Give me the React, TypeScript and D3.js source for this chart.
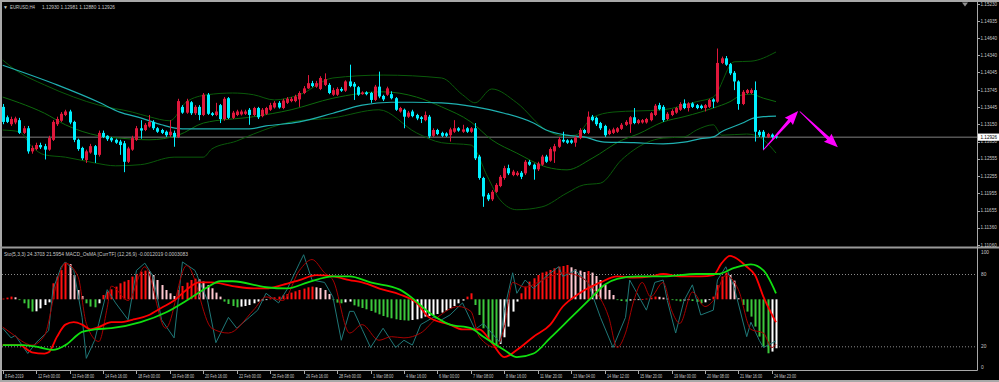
import React from "react";
import * as d3 from "d3";

// ---------------- DATA ----------------
// H4 candles [open, high, low, close], bar 0 = 8 Feb 16:00
const ohlc: number[][] = [
  [1.1345,1.1350,1.1315,1.1319],[1.1327,1.1330,1.1317,1.1319],[1.1315,1.1328,1.1312,1.1324],[1.1318,1.1328,1.1315,1.1325],
  [1.1322,1.1326,1.1298,1.1300],[1.1300,1.1312,1.1298,1.1308],[1.1308,1.1312,1.1264,1.1268],[1.1268,1.1278,1.1264,1.1274],
  [1.1272,1.1283,1.1270,1.1279],[1.1279,1.1283,1.1272,1.1275],[1.1277,1.1281,1.1254,1.1271],[1.1271,1.1295,1.1269,1.1291],
  [1.1288,1.1322,1.1286,1.1319],[1.1315,1.1328,1.1312,1.1324],[1.1321,1.1336,1.1319,1.1333],[1.1331,1.1340,1.1329,1.1337],
  [1.1337,1.1340,1.1315,1.1318],[1.1319,1.1321,1.1284,1.1288],[1.1288,1.1290,1.1269,1.1272],[1.1274,1.1276,1.1253,1.1256],
  [1.1253,1.1271,1.1248,1.1268],[1.1266,1.1281,1.1264,1.1277],[1.1277,1.1279,1.1248,1.1262],[1.1262,1.1304,1.1259,1.1300],
  [1.1300,1.1304,1.1291,1.1293],[1.1295,1.1296,1.1286,1.1289],[1.1291,1.1293,1.1284,1.1287],[1.1288,1.1290,1.1281,1.1283],
  [1.1285,1.1288,1.1262,1.1279],[1.1282,1.1286,1.1232,1.1250],[1.1250,1.1276,1.1248,1.1273],[1.1271,1.1295,1.1269,1.1291],
  [1.1288,1.1312,1.1286,1.1308],[1.1308,1.1322,1.1290,1.1304],[1.1305,1.1317,1.1303,1.1314],[1.1311,1.1331,1.1309,1.1319],
  [1.1319,1.1322,1.1305,1.1308],[1.1308,1.1310,1.1300,1.1302],[1.1305,1.1307,1.1298,1.1300],[1.1302,1.1304,1.1293,1.1296],
  [1.1296,1.1322,1.1293,1.1302],[1.1300,1.1304,1.1276,1.1293],[1.1293,1.1359,1.1291,1.1355],[1.1345,1.1348,1.1333,1.1335],
  [1.1335,1.1359,1.1333,1.1355],[1.1353,1.1355,1.1331,1.1334],[1.1334,1.1348,1.1331,1.1345],[1.1345,1.1348,1.1322,1.1331],
  [1.1331,1.1369,1.1329,1.1366],[1.1366,1.1369,1.1331,1.1333],[1.1334,1.1336,1.1329,1.1331],[1.1331,1.1352,1.1329,1.1337],
  [1.1348,1.1350,1.1317,1.1324],[1.1324,1.1362,1.1321,1.1359],[1.1360,1.1362,1.1324,1.1326],[1.1326,1.1338,1.1324,1.1335],
  [1.1331,1.1340,1.1329,1.1337],[1.1332,1.1340,1.1330,1.1337],[1.1333,1.1340,1.1331,1.1337],[1.1340,1.1343,1.1314,1.1331],
  [1.1331,1.1345,1.1329,1.1343],[1.1343,1.1345,1.1324,1.1327],[1.1329,1.1343,1.1327,1.1340],[1.1333,1.1345,1.1331,1.1343],
  [1.1340,1.1352,1.1338,1.1348],[1.1344,1.1355,1.1342,1.1352],[1.1352,1.1355,1.1342,1.1344],[1.1343,1.1359,1.1341,1.1356],
  [1.1352,1.1362,1.1350,1.1359],[1.1355,1.1362,1.1353,1.1359],[1.1355,1.1366,1.1353,1.1363],[1.1358,1.1372,1.1345,1.1369],
  [1.1369,1.1381,1.1367,1.1377],[1.1377,1.1400,1.1376,1.1386],[1.1386,1.1390,1.1379,1.1381],[1.1380,1.1390,1.1378,1.1386],
  [1.1376,1.1398,1.1374,1.1395],[1.1383,1.1403,1.1381,1.1393],[1.1383,1.1386,1.1367,1.1369],[1.1366,1.1378,1.1364,1.1374],
  [1.1366,1.1379,1.1364,1.1376],[1.1376,1.1379,1.1371,1.1373],[1.1373,1.1391,1.1371,1.1389],[1.1389,1.1418,1.1379,1.1381],
  [1.1385,1.1388,1.1357,1.1380],[1.1379,1.1381,1.1364,1.1366],[1.1367,1.1372,1.1366,1.1370],[1.1370,1.1372,1.1365,1.1367],
  [1.1369,1.1371,1.1352,1.1357],[1.1357,1.1383,1.1355,1.1380],[1.1380,1.1406,1.1360,1.1363],[1.1364,1.1366,1.1355,1.1358],
  [1.1366,1.1380,1.1364,1.1377],[1.1367,1.1372,1.1358,1.1360],[1.1360,1.1362,1.1338,1.1340],[1.1337,1.1345,1.1335,1.1343],
  [1.1340,1.1342,1.1308,1.1328],[1.1328,1.1338,1.1326,1.1335],[1.1337,1.1340,1.1327,1.1329],[1.1331,1.1333,1.1322,1.1325],
  [1.1327,1.1329,1.1317,1.1324],[1.1322,1.1337,1.1320,1.1331],[1.1328,1.1331,1.1291,1.1294],[1.1295,1.1308,1.1293,1.1305],
  [1.1305,1.1307,1.1296,1.1298],[1.1300,1.1302,1.1293,1.1295],[1.1299,1.1301,1.1293,1.1295],[1.1296,1.1309,1.1285,1.1306],
  [1.1302,1.1322,1.1300,1.1308],[1.1308,1.1310,1.1302,1.1304],[1.1302,1.1314,1.1300,1.1306],[1.1308,1.1310,1.1300,1.1302],
  [1.1302,1.1310,1.1300,1.1308],[1.1308,1.1317,1.1253,1.1256],[1.1259,1.1262,1.1219,1.1222],[1.1222,1.1224,1.1172,1.1190],
  [1.1193,1.1196,1.1182,1.1185],[1.1185,1.1201,1.1182,1.1198],[1.1198,1.1213,1.1196,1.1210],[1.1208,1.1227,1.1206,1.1224],
  [1.1222,1.1243,1.1219,1.1239],[1.1239,1.1245,1.1227,1.1230],[1.1227,1.1236,1.1225,1.1233],[1.1227,1.1234,1.1225,1.1231],
  [1.1231,1.1234,1.1220,1.1224],[1.1230,1.1253,1.1227,1.1250],[1.1250,1.1253,1.1243,1.1245],[1.1245,1.1247,1.1219,1.1237],
  [1.1237,1.1250,1.1234,1.1247],[1.1245,1.1262,1.1243,1.1259],[1.1259,1.1262,1.1248,1.1250],[1.1252,1.1275,1.1250,1.1272],
  [1.1268,1.1281,1.1248,1.1277],[1.1276,1.1293,1.1274,1.1289],[1.1288,1.1302,1.1283,1.1285],[1.1287,1.1289,1.1281,1.1283],
  [1.1287,1.1289,1.1281,1.1283],[1.1283,1.1295,1.1276,1.1292],[1.1291,1.1308,1.1289,1.1305],[1.1305,1.1307,1.1298,1.1300],
  [1.1300,1.1337,1.1298,1.1328],[1.1328,1.1331,1.1320,1.1322],[1.1326,1.1328,1.1312,1.1315],[1.1317,1.1319,1.1305,1.1308],
  [1.1312,1.1314,1.1293,1.1296],[1.1298,1.1307,1.1296,1.1304],[1.1300,1.1309,1.1298,1.1306],[1.1302,1.1310,1.1300,1.1308],
  [1.1307,1.1317,1.1305,1.1314],[1.1314,1.1322,1.1312,1.1319],[1.1315,1.1329,1.1300,1.1327],[1.1327,1.1343,1.1315,1.1317],
  [1.1317,1.1324,1.1315,1.1322],[1.1318,1.1324,1.1316,1.1322],[1.1318,1.1326,1.1316,1.1324],[1.1322,1.1336,1.1320,1.1334],
  [1.1331,1.1350,1.1329,1.1347],[1.1348,1.1352,1.1339,1.1341],[1.1345,1.1348,1.1319,1.1322],[1.1324,1.1336,1.1322,1.1333],
  [1.1331,1.1341,1.1329,1.1338],[1.1335,1.1345,1.1333,1.1343],[1.1340,1.1353,1.1338,1.1350],[1.1351,1.1358,1.1341,1.1343],
  [1.1343,1.1353,1.1337,1.1351],[1.1351,1.1353,1.1343,1.1345],[1.1348,1.1350,1.1341,1.1343],[1.1347,1.1349,1.1341,1.1343],
  [1.1343,1.1350,1.1337,1.1348],[1.1345,1.1359,1.1343,1.1357],[1.1358,1.1360,1.1343,1.1354],[1.1354,1.1446,1.1352,1.1421],
  [1.1421,1.1432,1.1419,1.1429],[1.1429,1.1433,1.1416,1.1418],[1.1419,1.1421,1.1400,1.1403],[1.1404,1.1407,1.1374,1.1389],
  [1.1389,1.1391,1.1340,1.1350],[1.1350,1.1374,1.1348,1.1371],[1.1369,1.1376,1.1367,1.1374],[1.1369,1.1377,1.1367,1.1374],
  [1.1374,1.1389,1.1285,1.1302],[1.1302,1.1305,1.1293,1.1296],[1.1302,1.1305,1.1271,1.1293],[1.1293,1.1300,1.1291,1.1298],
  [1.1297,1.1299,1.1290,1.1293],[1.1294,1.1296,1.1290,1.12926],
];

const lastPrice = 1.12926;
const priceTicks = [1.1523, 1.14935, 1.1464, 1.1434, 1.14045, 1.13745, 1.13445, 1.1315, 1.1285, 1.12555, 1.12255, 1.11955, 1.11655, 1.1136, 1.1106];
const timeLabels = ["8 Feb 2019","12 Feb 00:00","13 Feb 08:00","14 Feb 16:00","18 Feb 00:00","19 Feb 08:00","20 Feb 16:00","22 Feb 00:00","25 Feb 08:00","26 Feb 16:00","28 Feb 00:00","1 Mar 08:00","4 Mar 16:00","6 Mar 00:00","7 Mar 08:00","8 Mar 16:00","11 Mar 20:00","13 Mar 04:00","14 Mar 12:00","15 Mar 20:00","19 Mar 00:00","20 Mar 08:00","21 Mar 16:00","24 Mar 23:00"];
const barsPerTimeLabel = 8;
const stochLevels = [100, 80, 20, 0];

// main-pane indicator lines: [bar, price]
const maLine: number[][] = [[0,1.1417],[13,1.1383],[23,1.1353],[28,1.1336],[33,1.1326],[38,1.1314],[43,1.1307],[59,1.1307],[63,1.1312],[71,1.1319],[79,1.1334],[86,1.1348],[93,1.1353],[98,1.1353],[105,1.1352],[113,1.1345],[120,1.1334],[127,1.1317],[130,1.1305],[135,1.1296],[139,1.1293],[144,1.1284],[151,1.1283],[158,1.1281],[163,1.1284],[167,1.1290],[170,1.1293],[172,1.1302],[177,1.1317],[179,1.1324],[182,1.1328],[185,1.1329]];
const bbUpper: number[][] = [[0,1.1426],[3,1.1409],[10,1.1383],[17,1.1362],[23,1.1348],[31,1.1336],[35,1.1328],[40,1.1321],[44,1.1354],[49,1.1366],[55,1.1369],[60,1.1366],[65,1.1357],[71,1.1366],[79,1.1395],[91,1.1400],[105,1.1395],[110,1.1366],[113,1.1352],[117,1.1376],[123,1.1352],[130,1.1305],[134,1.1295],[137,1.1296],[141,1.1326],[146,1.1336],[158,1.1340],[166,1.1354],[170,1.1362],[175,1.1423],[179,1.1424],[185,1.1440]];
const bbMiddle: number[][] = [[0,1.1362],[4,1.1352],[10,1.1334],[15,1.1314],[23,1.1295],[28,1.1291],[35,1.1288],[42,1.1296],[48,1.1317],[60,1.1328],[69,1.1340],[79,1.1360],[91,1.1371],[99,1.1362],[105,1.1345],[112,1.1319],[117,1.1288],[123,1.1265],[130,1.1241],[135,1.1236],[141,1.1256],[148,1.1287],[152,1.1298],[158,1.1319],[163,1.1328],[167,1.1336],[170,1.1343],[174,1.1354],[177,1.1366],[179,1.1367],[182,1.1360],[185,1.1354]];
const bbLower: number[][] = [[0,1.1305],[4,1.1302],[7,1.1276],[10,1.1262],[15,1.1258],[22,1.1248],[27,1.1243],[33,1.1245],[41,1.1258],[48,1.1258],[50,1.1272],[56,1.1286],[60,1.1298],[69,1.1319],[79,1.1326],[90,1.1340],[99,1.1300],[105,1.1283],[112,1.1279],[116,1.1224],[119,1.1184],[123,1.1167],[129,1.1172],[135,1.1196],[139,1.1210],[143,1.1213],[148,1.1253],[154,1.1283],[158,1.1291],[163,1.1293],[166,1.1305],[170,1.1314],[172,1.1296],[178,1.1298],[180,1.1296],[182,1.1288],[185,1.1265]];

// sub-pane: Stochastic (5,3,3)
const stochMain: number[][] = [[0,35],[2,27],[3,29],[6,14],[8,23],[11,33],[12,67],[14,86],[15,90],[17,83],[19,44],[20,10],[22,25],[23,39],[25,67],[27,56],[30,42],[32,83],[34,89],[36,78],[38,42],[41,27],[43,90],[46,83],[49,58],[51,23],[54,44],[56,35],[59,44],[61,50],[63,64],[66,56],[68,67],[71,89],[72,96],[74,75],[77,73],[79,61],[81,25],[83,49],[84,49],[86,34],[88,19],[91,35],[94,19],[96,25],[98,21],[100,38],[103,44],[105,42],[107,46],[110,56],[113,34],[115,39],[119,23],[120,50],[122,81],[123,64],[125,75],[127,68],[130,78],[133,86],[134,78],[137,83],[140,73],[143,44],[146,19],[149,44],[150,75],[154,50],[156,73],[158,75],[159,58],[161,31],[163,58],[165,71],[167,46],[170,50],[171,75],[173,86],[175,69],[178,28],[179,40],[181,25],[182,19],[185,24.4]];
const stochSignal: number[][] = [[0,36],[2,31],[7,21],[10,29],[13,73],[15,89],[18,78],[20,39],[23,24],[25,52],[26,70],[30,58],[34,86],[39,35],[44,87],[50,35],[54,31],[60,50],[63,61],[67,58],[71,83],[74,92],[77,81],[79,75],[83,31],[86,38],[90,25],[93,28],[96,27],[100,31],[104,44],[109,53],[112,49],[114,28],[118,19],[120,36],[122,73],[125,69],[128,73],[131,78],[134,81],[138,78],[141,69],[145,44],[147,19],[149,31],[151,58],[153,73],[155,61],[158,73],[160,50],[162,39],[165,65],[168,53],[170,58],[173,79],[176,67],[179,34],[182,31],[184,19],[185,21.6]];
// MACD_OsMA [CurrTF] lines (drawn in pane units)
const osmaRedLine: number[][] = [[0,21],[4,21],[7,15],[10,14],[11,15],[13,28],[15,38],[17,40],[19,38],[21,34],[23,36],[26,40],[28,40],[31,42],[35,46],[38,52],[41,58],[44,67],[47,73],[50,73],[55,70],[60,68],[63,68],[67,71],[71,75],[75,79],[79,78],[83,75],[86,73],[91,67],[95,63],[99,56],[102,44],[107,38],[110,34],[114,34],[117,23],[120,11],[123,17],[127,28],[131,38],[134,53],[138,64],[143,73],[147,78],[151,77],[155,78],[158,80],[162,78],[167,78],[170,79],[172,89],[174,95],[175,94],[178,86],[180,79],[182,61],[185,40]];
const osmaGreenLine: number[][] = [[0,21],[5,21],[9,19],[12,17],[15,21],[19,32],[22,34],[26,35],[33,40],[39,48],[44,58],[49,69],[52,74],[55,74],[63,69],[68,68],[73,73],[79,78],[83,78],[88,73],[95,67],[98,60],[102,48],[107,38],[112,35],[115,28],[120,17],[123,11],[127,14],[131,27],[136,44],[141,61],[144,71],[147,76],[152,78],[158,78],[166,80],[171,80],[175,85],[179,88],[182,83],[185,64]];
// OsMA histogram, one value per bar
const osma: number[] = [
  0.000017,0.000042,0.000066,0.000049,-0.000017,-0.000098,-0.000221,-0.000301,-0.000294,-0.000221,
  -0.000140,-0.000074,0.000392,0.000556,0.000718,0.000899,0.000865,0.000595,0.000228,0.000081,
  -0.000098,-0.000179,-0.000196,-0.000098,0.000105,0.000189,0.000245,0.000311,0.000392,0.000434,
  0.000473,0.000556,0.000620,0.000679,0.000703,0.000679,0.000595,0.000473,0.000350,0.000228,
  0.000147,0.000081,0.000228,0.000326,0.000409,0.000473,0.000507,0.000490,0.000434,0.000350,
  0.000270,0.000164,0.000066,-0.000056,-0.000115,-0.000164,-0.000196,-0.000179,-0.000164,-0.000140,
  -0.000098,-0.000056,-0.000032,-0.000017,0.000025,0.000049,0.000066,0.000098,0.000130,0.000164,
  0.000196,0.000228,0.000262,0.000294,0.000311,0.000294,0.000277,0.000228,0.000130,-0.000017,
  -0.000081,-0.000098,-0.000074,-0.000056,-0.000147,-0.000179,-0.000213,-0.000245,-0.000287,-0.000326,
  -0.000368,-0.000409,-0.000441,-0.000466,-0.000490,-0.000507,-0.000515,-0.000522,-0.000507,-0.000490,
  -0.000466,-0.000424,-0.000409,-0.000385,-0.000360,-0.000326,-0.000277,-0.000221,-0.000164,-0.000098,
  -0.000032,0.000066,0.000147,-0.000140,-0.000385,-0.000711,-0.000956,-0.001078,-0.001120,-0.001095,
  -0.000931,-0.000669,-0.000301,-0.000056,0.000147,0.000311,0.000434,0.000515,0.000595,0.000654,
  0.000679,0.000718,0.000760,0.000801,0.000816,0.000840,0.000784,0.000735,0.000703,0.000669,
  0.000693,0.000654,0.000571,0.000473,0.000350,0.000228,0.000105,-0.000017,-0.000042,-0.000056,
  -0.000032,-0.000017,-0.000007,0.000007,0.000017,0.000042,0.000066,0.000061,0.000042,0.000017,
  -0.000017,-0.000032,-0.000049,-0.000032,-0.000017,-0.000042,-0.000066,-0.000098,-0.000074,-0.000017,
  0.000066,0.000350,0.000556,0.000654,0.000595,0.000458,0.000025,-0.000140,-0.000301,-0.000424,
  -0.000669,-0.000914,-0.001159,-0.001323,-0.001281,-0.001200,
];
// hand-drawn arrows: [fromBar, fromPrice, toBar, toPrice]
const arrowsData: number[][] = [[181.9, 1.1270, 190.3, 1.1338], [190.7, 1.1337, 199.8, 1.1275]];

// ---------------- STYLE ----------------
const FONT = "'Liberation Sans', Arial, sans-serif";
const TXT = "#c8c8c8";
const BULL = "#e0183c";
const BEAR = "#00f0ff";

function arrowPoints(x1: number, y1: number, x2: number, y2: number) {
  const dx = x2 - x1, dy = y2 - y1, L = Math.hypot(dx, dy);
  const ux = dx / L, uy = dy / L, nx = -uy, ny = ux;
  const hl = 13, hw = 5.5, w0 = 0.4, w1 = 1.7;
  const bx = x2 - ux * hl, by = y2 - uy * hl;
  const p = [
    [x1 + nx * w0, y1 + ny * w0], [bx + nx * w1, by + ny * w1], [bx - ux * 1 + nx * hw, by - uy * 1 + ny * hw],
    [x2, y2], [bx - ux * 1 - nx * hw, by - uy * 1 - ny * hw], [bx - nx * w1, by - ny * w1], [x1 - nx * w0, y1 - ny * w0],
  ];
  return p.map((q) => q.join(",")).join(" ");
}

export default function App() {
  const n = ohlc.length;
  const x = d3.scaleLinear().domain([0, n - 1]).range([2.7, 2.7 + (n - 1) * 4.18]);
  const y = d3.scaleLinear().domain([1.1106, 1.1523]).range([245, 4]);
  const ys = d3.scaleLinear().domain([0, 100]).range([370.4, 249.9]);
  const yh = d3.scaleLinear().domain([-0.0015, 0.0015]).range([299.3 + 61.2, 299.3 - 61.2]);

  const mainLine = (curve: d3.CurveFactory) =>
    d3.line<number[]>().x((d) => x(d[0])).y((d) => y(d[1])).curve(curve);
  const subLine = (curve: d3.CurveFactory) =>
    d3.line<number[]>().x((d) => x(d[0])).y((d) => ys(d[1])).curve(curve);

  const histColor = (i: number) => {
    const v = osma[i], p = i > 0 ? osma[i - 1] : v;
    if (v >= 0) return v >= p ? "#ff1010" : "#ffc8d0";
    return v < p ? "#3cc83c" : "#ffffff";
  };

  return (
    <div style={{ position: "absolute", left: 0, top: 0, width: 999, height: 382, background: "#000" }}>
      <svg width={999} height={382} style={{ display: "block", fontFamily: FONT }}>
        <defs>
          <clipPath id="cpMain"><rect x={2} y={3} width={975} height={243} /></clipPath>
          <clipPath id="cpSub"><rect x={2} y={249} width={975} height={121} /></clipPath>
        </defs>
        <rect x={0} y={0} width={999} height={382} fill="#000" />
        {/* outer frame */}
        <rect x={0} y={0} width={999} height={2} fill="#a8a8a8" />
        <rect x={0} y={0} width={2} height={382} fill="#a8a8a8" />
        <rect x={0} y={380} width={999} height={2} fill="#a8a8a8" />

        {/* ---------- MAIN PANE ---------- */}
        <g clipPath="url(#cpMain)">
          <line x1={2} x2={977} y1={y(lastPrice)} y2={y(lastPrice)} stroke="#808080" strokeWidth={1} />
          <path d={mainLine(d3.curveMonotoneX)(bbUpper) || ""} fill="none" stroke="#0a5a0a" strokeWidth={1} />
          <path d={mainLine(d3.curveMonotoneX)(bbLower) || ""} fill="none" stroke="#0a5a0a" strokeWidth={1} />
          <path d={mainLine(d3.curveMonotoneX)(bbMiddle) || ""} fill="none" stroke="#0d6a0d" strokeWidth={1} />
          <path d={mainLine(d3.curveMonotoneX)(maLine) || ""} fill="none" stroke="#1fb0b0" strokeWidth={1.2} />
          {ohlc.map((c, i) => {
            const [o, h, l, cl] = c;
            const col = cl >= o ? BULL : BEAR;
            const cx = Math.round(x(i)) + 0.5;
            const top = y(Math.max(o, cl)), bot = y(Math.min(o, cl));
            return (
              <g key={i}>
                <line x1={cx} x2={cx} y1={y(h)} y2={y(l)} stroke={col} strokeWidth={1} />
                <rect x={cx - 1.5} y={top} width={3} height={Math.max(1, bot - top)} fill={col} />
              </g>
            );
          })}
          {arrowsData.map((a, i) => (
            <polygon key={i} points={arrowPoints(x(a[0]), y(a[1]), x(a[2]), y(a[3]))} fill="#ff00ff" />
          ))}
        </g>
        <text x={3} y={8.5} fontSize={5} fill={TXT}>▼</text>
        <text x={10} y={8.5} fontSize={5.5} fill={TXT} textLength={25} lengthAdjust="spacingAndGlyphs">EURUSD,H4</text>
        <text x={42} y={8.5} fontSize={5.5} fill={TXT} textLength={73} lengthAdjust="spacingAndGlyphs">1.12930 1.12981 1.12880 1.12926</text>
        <polygon points="962,2.5 968,2.5 965,6.5" fill="#909090" />

        {/* ---------- SUB PANE ---------- */}
        <rect x={0} y={246.5} width={999} height={2} fill="#9a9a9a" />
        <g clipPath="url(#cpSub)">
          {[80, 20].map((lv) => (
            <line key={lv} x1={2} x2={977} y1={ys(lv) + 0.5} y2={ys(lv) + 0.5} stroke="#8a8a8a" strokeWidth={1} strokeDasharray="1 2" />
          ))}
          {osma.map((v, i) => {
            const cx = Math.round(x(i));
            const y0 = yh(0), y1 = yh(v);
            return <rect key={i} x={cx - 0.5} y={Math.min(y0, y1)} width={2} height={Math.max(0.8, Math.abs(y1 - y0))} fill={histColor(i)} />;
          })}
          <path d={subLine(d3.curveLinear)(stochMain) || ""} fill="none" stroke="#1f7878" strokeWidth={1} />
          <path d={subLine(d3.curveMonotoneX)(stochSignal) || ""} fill="none" stroke="#a80000" strokeWidth={1} />
          <path d={subLine(d3.curveMonotoneX)(osmaRedLine) || ""} fill="none" stroke="#ff0000" strokeWidth={1.8} />
          <path d={subLine(d3.curveMonotoneX)(osmaGreenLine) || ""} fill="none" stroke="#10e010" strokeWidth={1.8} />
        </g>
        <text x={4} y={256} fontSize={5.5} fill={TXT} textLength={184} lengthAdjust="spacingAndGlyphs">
          Sto(5,3,3) 24.3703 21.5954  MACD_OsMA [CurrTF] (12,26,9) -0.0012019 0.0003083
        </text>

        {/* ---------- AXES ---------- */}
        <line x1={977.5} x2={977.5} y1={2} y2={370.5} stroke="#a8a8a8" strokeWidth={1} />
        <line x1={2} x2={977.5} y1={370.5} y2={370.5} stroke="#a8a8a8" strokeWidth={1} />
        {priceTicks.map((p, i) => (
          <g key={i}>
            <line x1={977} x2={980} y1={Math.round(y(p)) + 0.5} y2={Math.round(y(p)) + 0.5} stroke="#a8a8a8" />
            <text x={980.5} y={Math.max(6, y(p) + 1.8)} fontSize={4.6} fill={TXT}>{p.toFixed(5)}</text>
          </g>
        ))}
        <rect x={978} y={y(lastPrice) - 3.6} width={21} height={7.2} fill="#ffffff" />
        <text x={980.5} y={y(lastPrice) + 1.8} fontSize={4.6} fill="#000">{lastPrice.toFixed(5)}</text>
        {stochLevels.map((lv) => (
          <text key={lv} x={981} y={Math.min(368.5, Math.max(254, ys(lv) + 2))} fontSize={4.8} fill={TXT}>{lv}</text>
        ))}
        {timeLabels.map((t, k) => {
          const tx = Math.round(x(k * barsPerTimeLabel)) + 0.5;
          return (
            <g key={k}>
              <line x1={tx} x2={tx} y1={370.5} y2={374} stroke="#a8a8a8" />
              <text x={tx + 1.5} y={378} fontSize={5.5} fill={TXT} textLength={t.length * 1.85} lengthAdjust="spacingAndGlyphs">{t}</text>
            </g>
          );
        })}
      </svg>
    </div>
  );
}
